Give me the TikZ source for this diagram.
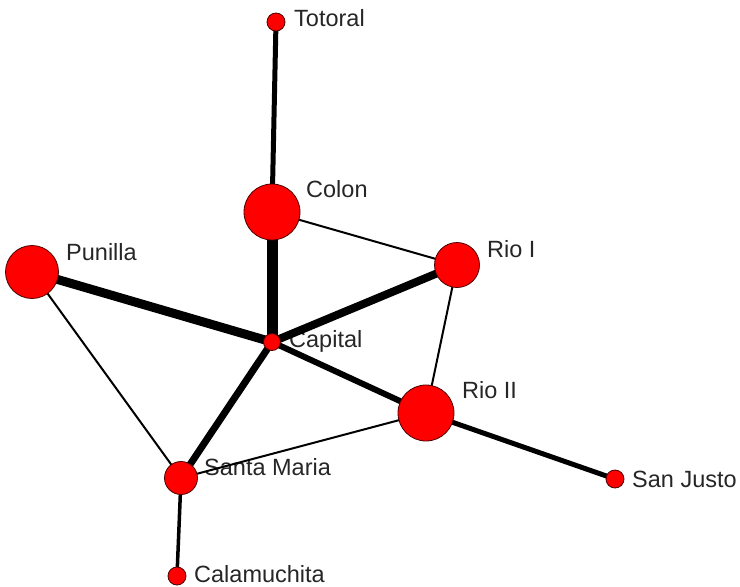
\documentclass[tikz,border=0pt]{standalone}
\usepackage{fontspec}
\setmainfont{Liberation Sans}
\pgfdeclarelayer{labels}
\pgfdeclarelayer{edges}
\pgfsetlayers{labels,edges,main}
\begin{document}
\begin{tikzpicture}[x=1pt,y=-1pt,
  vert/.style={circle,fill=red,draw=black!70!red,line width=0.8pt,inner sep=0pt,minimum size=#1},
  lab/.style={anchor=base west,inner sep=0pt,font=\fontsize{23.5}{27}\selectfont,text=black!85},
  tie/.style={line width=#1,draw=black}]
\useasboundingbox (0,0) rectangle (740,587);
% vertices
\node[vert=18pt] (totoral) at (276,22) {};
\node[vert=56pt] (colon) at (272,212) {};
\node[vert=53pt] (punilla) at (32,272) {};
\node[vert=45pt] (rioi) at (457,265) {};
\node[vert=17pt] (capital) at (272,342) {};
\node[vert=56pt] (rioii) at (426,413) {};
\node[vert=33pt] (santamaria) at (181,478) {};
\node[vert=18pt] (sanjusto) at (615,479) {};
\node[vert=18pt] (calamuchita) at (177,576) {};
% labels
\begin{pgfonlayer}{labels}
\node[lab] (ltotoral) at (294,26) {Totoral};
\node[lab] (lcolon) at (306,197) {Colon};
\node[lab] (lpunilla) at (66,260) {Punilla};
\node[lab] (lrioi) at (487,257) {Rio I};
\node[lab] (lcapital) at (289,347) {Capital};
\node[lab] (lrioii) at (462,398) {Rio II};
\node[lab] (lsantamaria) at (204,475) {Santa Maria};
\node[lab] (lsanjusto) at (632,487) {San Justo};
\node[lab] (lcalamuchita) at (194,582) {Calamuchita};
\end{pgfonlayer}
% edges
\begin{pgfonlayer}{edges}
\draw[tie=5pt] (totoral.center) -- (colon.center);
\draw[tie=11pt] (colon.center) -- (capital.center);
\draw[tie=9pt] (punilla.center) -- (capital.center);
\draw[tie=8pt] (capital.center) -- (rioi.center);
\draw[tie=6pt] (capital.center) -- (rioii.center);
\draw[tie=7pt] (capital.center) -- (santamaria.center);
\draw[tie=2pt] (colon.center) -- (rioi.center);
\draw[tie=2pt] (rioi.center) -- (rioii.center);
\draw[tie=2pt] (punilla.center) -- (santamaria.center);
\draw[tie=2pt] (santamaria.center) -- (rioii.center);
\draw[tie=5pt] (rioii.center) -- (sanjusto.center);
\draw[tie=3.5pt] (santamaria.center) -- (calamuchita.center);
\end{pgfonlayer}
\end{tikzpicture}
\end{document}
